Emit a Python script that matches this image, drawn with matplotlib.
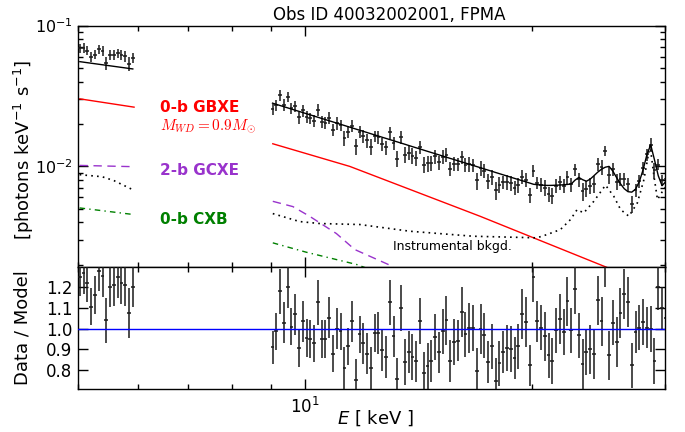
import numpy as np
import matplotlib
matplotlib.use("Agg")
import matplotlib.pyplot as plt
from matplotlib.ticker import LogLocator, NullFormatter, FixedLocator, FormatStrFormatter, NullLocator

# ---------------- data ----------------
# low-energy group
energy_lo = [5.028, 5.086, 5.145, 5.205, 5.266, 5.327, 5.389, 5.451, 5.514, 5.578,
             5.643, 5.709, 5.775, 5.842, 5.910]
model_lo = [0.05536, 0.05489, 0.05442, 0.05396, 0.05350, 0.05305, 0.05260, 0.05215,
            0.05171, 0.05127, 0.05084, 0.05040, 0.04998, 0.04955, 0.04913]
ratio_lo = [1.25, 1.27, 1.22, 1.106, 1.163, 1.28, 1.255, 1.04, 1.203, 1.21,
            1.25, 1.22, 1.21, 1.077, 1.203]
ratio_err_lo = [0.09, 0.10, 0.09, 0.09, 0.09, 0.10, 0.10, 0.11, 0.10, 0.10,
                0.10, 0.10, 0.10, 0.12, 0.10]

# high-energy group
energy_hi = [9.054, 9.159, 9.265, 9.373, 9.482, 9.592, 9.703, 9.816, 9.930, 10.045,
             10.162, 10.280, 10.399, 10.520, 10.642, 10.766, 10.891, 11.017, 11.145, 11.275,
             11.405, 11.537, 11.671, 11.807, 11.944, 12.083, 12.223, 12.365, 12.508, 12.654,
             12.801, 12.950, 13.100, 13.252, 13.406, 13.562, 13.719, 13.878, 14.039, 14.203,
             14.367, 14.534, 14.703, 14.873, 15.046, 15.221, 15.397, 15.576, 15.757, 15.940,
             16.125, 16.312, 16.502, 16.693, 16.887, 17.083, 17.281, 17.482, 17.685, 17.890,
             18.098, 18.308, 18.521, 18.736, 18.953, 19.173, 19.396, 19.621, 19.849, 20.079,
             20.312, 20.548, 20.786, 21.028, 21.272, 21.519, 21.769, 22.021, 22.277, 22.536,
             22.797, 23.062, 23.329, 23.600, 23.874, 24.151, 24.432, 24.716, 25.003, 25.293,
             25.586, 25.883, 26.184, 26.488, 26.795, 27.106, 27.421, 27.739, 28.061, 28.387,
             28.717, 29.050, 29.388, 29.729, 30.074]
model_hi = [0.02806, 0.02753, 0.02700, 0.02649, 0.02598, 0.02549, 0.02500, 0.02453, 0.02406, 0.02360,
            0.02315, 0.02271, 0.02228, 0.02185, 0.02144, 0.02103, 0.02063, 0.02023, 0.01985, 0.01947,
            0.01910, 0.01874, 0.01838, 0.01803, 0.01769, 0.01735, 0.01702, 0.01669, 0.01638, 0.01606,
            0.01576, 0.01546, 0.01517, 0.01488, 0.01459, 0.01432, 0.01404, 0.01377, 0.01351, 0.01326,
            0.01300, 0.01275, 0.01251, 0.01227, 0.01204, 0.01181, 0.01158, 0.01136, 0.01115, 0.01093,
            0.01073, 0.01053, 0.01033, 0.01013, 0.00994, 0.00975, 0.00956, 0.00938, 0.00920, 0.00902,
            0.00885, 0.00868, 0.00852, 0.00835, 0.00819, 0.00804, 0.00789, 0.00774, 0.00759, 0.00744,
            0.00739, 0.00735, 0.00731, 0.00730, 0.00731, 0.00733, 0.00735, 0.00738, 0.00742, 0.00748,
            0.00796, 0.00832, 0.00802, 0.00782, 0.00809, 0.00856, 0.00907, 0.00952, 0.00984, 0.00997,
            0.00922, 0.00829, 0.00751, 0.00692, 0.00659, 0.00654, 0.00687, 0.00777, 0.00944, 0.01207,
            0.01421, 0.01112, 0.00856, 0.00727, 0.00777]
ratio_hi = [0.91, 0.987, 1.18, 1.03, 1.20, 1.01, 1.07, 0.907, 1.035, 0.955,
            0.95, 0.93, 1.127, 0.95, 0.95, 1.053, 0.88, 1.0, 0.987, 0.81,
            0.915, 1.035, 0.754, 0.973, 0.93, 0.88, 0.81, 0.98, 0.98, 0.895,
            0.863, 1.127, 0.963, 0.758, 1.10, 0.84, 0.887, 0.863, 0.842, 1.037,
            0.787, 0.82, 0.844, 0.96, 0.886, 0.987, 1.04, 0.845, 0.936, 0.942,
            1.08, 0.973, 1.003, 1.003, 0.797, 1.0, 0.968, 0.84, 0.915, 0.749,
            0.833, 0.887, 0.907, 0.903, 0.858, 0.915, 1.07, 1.032, 0.823, 1.25,
            1.035, 1.005, 0.963, 0.871, 0.845, 0.992, 1.048, 0.984, 1.132, 0.992,
            1.193, 0.968, 0.831, 0.887, 0.9, 0.879, 1.137, 1.035, 1.31, 0.871,
            1.03, 0.936, 1.077, 1.169, 1.129, 0.823, 0.984, 1.005, 1.032, 1.005,
            1.0, 0.845, 1.2, 1.1, 1.05]
ratio_err_hi = [0.08, 0.09, 0.11, 0.10, 0.10, 0.09, 0.10, 0.09, 0.10, 0.09,
                0.09, 0.09, 0.11, 0.09, 0.09, 0.10, 0.09, 0.10, 0.09, 0.10,
                0.09, 0.10, 0.10, 0.09, 0.10, 0.10, 0.10, 0.09, 0.10, 0.10,
                0.10, 0.11, 0.10, 0.10, 0.11, 0.11, 0.10, 0.11, 0.10, 0.11,
                0.10, 0.11, 0.10, 0.11, 0.10, 0.11, 0.12, 0.10, 0.11, 0.10,
                0.12, 0.11, 0.12, 0.11, 0.11, 0.12, 0.11, 0.10, 0.11, 0.11,
                0.11, 0.10, 0.11, 0.11, 0.10, 0.11, 0.12, 0.12, 0.10, 0.12,
                0.10, 0.11, 0.12, 0.11, 0.11, 0.11, 0.12, 0.11, 0.12, 0.11,
                0.12, 0.11, 0.12, 0.11, 0.12, 0.12, 0.12, 0.12, 0.11, 0.12,
                0.11, 0.12, 0.12, 0.12, 0.12, 0.11, 0.10, 0.11, 0.11, 0.10,
                0.11, 0.11, 0.11, 0.10, 0.10]

# model components
gbxe_lo_E = [5.028, 5.933]
gbxe_lo = [0.03011, 0.02629]
gbxe_hi_E = [9.061, 11.46, 17.06, 24.89, 25.41]
gbxe_hi = [0.01444, 0.009968, 0.004406, 0.001947, 0.001863]

gcxe_lo_E = [5.024, 5.933]
gcxe_lo = [0.010131, 0.009920]
gcxe_hi_E = [9.061, 9.634, 10.139, 11.002, 11.635, 12.89, 13.36]
gcxe_hi = [0.005628, 0.005162, 0.004406, 0.003321, 0.002557, 0.002002, 0.001785]

cxb_lo_E = [5.024, 5.933]
cxb_lo = [0.005051, 0.004529]
cxb_hi_E = [9.061, 10.037, 11.70, 12.19]
cxb_hi = [0.002852, 0.002446, 0.002002, 0.001845]

bkg_lo_E = [5.024, 5.379, 5.581, 5.933]
bkg_lo = [0.008705, 0.008423, 0.007892, 0.006737]
bkg_hi_E = [9.061, 9.833, 10.454, 11.817, 13.77, 16.70, 20.29, 20.93, 21.80, 22.48,
            22.94, 23.41, 24.14, 25.02, 25.66, 26.20, 26.87, 27.57, 28.13, 28.66,
            29.01, 29.32, 29.77, 30.16]
bkg_hi = [0.004603, 0.004041, 0.003913, 0.003849, 0.003449, 0.003178, 0.003096, 0.003267,
          0.003545, 0.004174, 0.004914, 0.004656, 0.005628, 0.007331, 0.006107, 0.004914,
          0.004406, 0.005483, 0.008023, 0.01409, 0.008468, 0.005787, 0.006627, 0.007273]

title = "Obs ID 40032002001, FPMA"

# ---------------- figure ----------------
plt.rcParams['font.family'] = ['DejaVu Sans']
fig = plt.figure(figsize=(6.85, 4.32), dpi=100)
ax = fig.add_axes([0.1139, 0.3819, 0.8569, 0.5590])
axr = fig.add_axes([0.1139, 0.0995, 0.8569, 0.2824])

binf = 1.01161
half = np.sqrt(binf)


def xerr_of(E):
    E = np.asarray(E)
    return [E - E / half, E * half - E]


for E, mod, rat, rerr in [(energy_lo, model_lo, ratio_lo, ratio_err_lo),
                          (energy_hi, model_hi, ratio_hi, ratio_err_hi)]:
    E = np.asarray(E)
    mod = np.asarray(mod)
    rat = np.asarray(rat)
    rerr = np.asarray(rerr)
    ax.errorbar(E, mod * rat, yerr=mod * rerr, xerr=xerr_of(E), fmt='none',
                ecolor='0.1', elinewidth=1.1, capsize=0, zorder=3)
    ax.plot(E, mod, color='k', lw=1.0, zorder=4)
    axr.errorbar(E, rat, yerr=rerr, xerr=xerr_of(E), fmt='none',
                 ecolor='0.1', elinewidth=1.1, capsize=0, zorder=3)

ax.plot(gbxe_lo_E, gbxe_lo, color='red', lw=1.0)
ax.plot(gbxe_hi_E, gbxe_hi, color='red', lw=1.0)
ax.plot(gcxe_lo_E, gcxe_lo, color='#9933cc', lw=1.0, ls=(0, (6, 4)))
ax.plot(gcxe_hi_E, gcxe_hi, color='#9933cc', lw=1.0, ls=(0, (6, 4)))
ax.plot(cxb_lo_E, cxb_lo, color='green', lw=1.0, ls=(0, (4, 3, 1, 3)))
ax.plot(cxb_hi_E, cxb_hi, color='green', lw=1.0, ls=(0, (4, 3, 1, 3)))
ax.plot(bkg_lo_E, bkg_lo, color='k', lw=1.2, ls=(0, (1, 2.5)))
ax.plot(bkg_hi_E, bkg_hi, color='k', lw=1.2, ls=(0, (1, 2.5)))

axr.axhline(1.0, color='blue', lw=1.0, zorder=4)

for a in (ax, axr):
    a.set_xscale('log')
    a.set_xlim(5.0, 30.0)
    a.xaxis.set_major_locator(LogLocator(base=10))
    a.xaxis.set_minor_locator(LogLocator(base=10, subs=np.arange(2, 10)))
    a.xaxis.set_minor_formatter(NullFormatter())
    a.tick_params(which='both', direction='in', top=True, right=True, width=1.0)
    a.tick_params(which='major', length=7)
    a.tick_params(which='minor', length=3.5)
    for s in a.spines.values():
        s.set_linewidth(1.0)

ax.set_yscale('log')
ax.set_ylim(1.92e-3, 0.1)
ax.yaxis.set_minor_formatter(NullFormatter())
ax.tick_params(labelbottom=False, labelsize=11.5, pad=4)

axr.set_ylim(0.709, 1.298)
axr.yaxis.set_major_locator(FixedLocator([0.8, 0.9, 1.0, 1.1, 1.2]))
axr.yaxis.set_major_formatter(FormatStrFormatter('%.1f'))
axr.yaxis.set_minor_locator(NullLocator())
axr.tick_params(labelsize=12, pad=4)
axr.tick_params(axis='x', pad=6)

# labels
fig.text(389 / 685, 1 - 15 / 432, title, ha='center', va='center', fontsize=12)
fig.text(24 / 685, 1 - 150 / 432, r"[photons keV$^{-1}$ s$^{-1}$]", rotation=90,
         ha='center', va='center', fontsize=13)
fig.text(23 / 685, 1 - 328 / 432, "Data / Model", rotation=90,
         ha='center', va='center', fontsize=13)
fig.text(375 / 685, 1 - 418 / 432, r"$E$ [ keV ]", ha='center', va='center',
         fontsize=13)

ax.text(0.1397, 0.6625, "0-b GBXE", transform=ax.transAxes, color='red',
        fontsize=11, fontweight='bold', ha='left', va='center')
ax.text(0.1397, 0.584, r"$M_{WD} = 0.9 M_{\odot}$", transform=ax.transAxes,
        color='red', fontsize=11, ha='left', va='center', math_fontfamily='cm')
ax.text(0.1397, 0.40, "2-b GCXE", transform=ax.transAxes, color='#9933cc',
        fontsize=11, fontweight='bold', ha='left', va='center')
ax.text(0.1397, 0.195, "0-b CXB", transform=ax.transAxes, color='green',
        fontsize=11, fontweight='bold', ha='left', va='center')
ax.text(0.5366, 0.087, "Instrumental bkgd.", transform=ax.transAxes, color='k',
        fontsize=9, ha='left', va='center')

fig.savefig("out.png", dpi=100)
